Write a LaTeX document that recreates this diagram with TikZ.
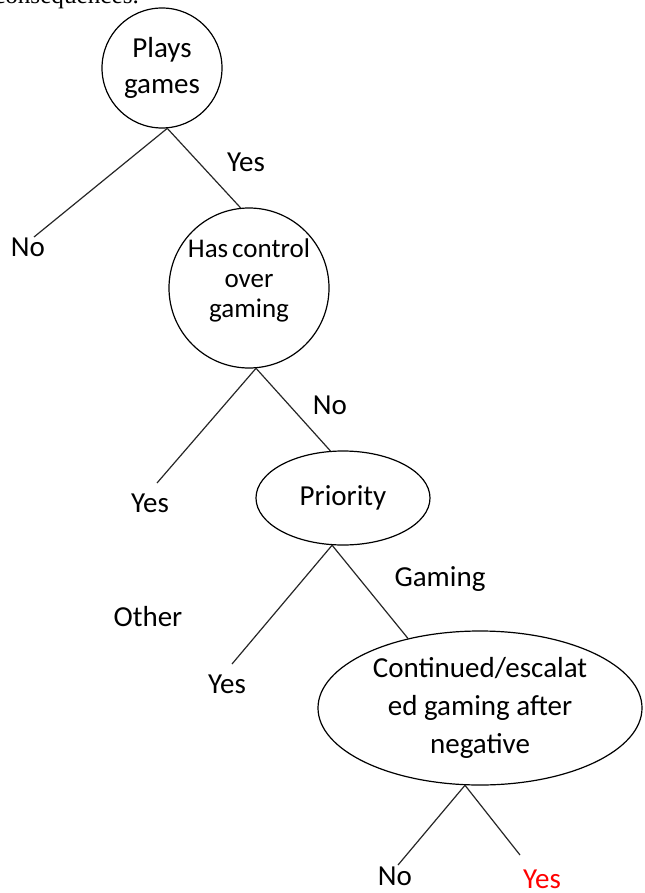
\documentclass[tikz,border=0pt]{standalone}
\usepackage{fontspec}
\setmainfont{Carlito}
\newfontfamily\capfont{Liberation Serif}
\usetikzlibrary{shapes.geometric}

\begin{document}
\begin{tikzpicture}[x=0.5pt,y=-0.5pt,
  every node/.style={font=\fontsize{14.5}{18}\selectfont},
  decision/.style={circle,draw,line width=0.6pt,inner sep=0pt,align=center},
  choice/.style={ellipse,draw,line width=0.6pt,inner sep=0pt,align=center},
  branch/.style={line width=0.6pt,black!85}]
  \useasboundingbox (0,0) rectangle (644,893);
  \node[anchor=base east,font=\capfont\fontsize{12.6}{14}\selectfont] at (146,4) (cap) {consequences.};
  % the tree
  \node[decision,minimum size=60pt] at (162,68) (plays) {Plays\\games};
  \node[decision,minimum size=80pt,
        label={[align=center,font=\fontsize{13.5}{15}\selectfont,yshift=4pt]center:Has\hspace{2pt}control\\over\\gaming}]
        at (249,288) (hc) {};
  \node[choice,minimum width=87pt,minimum height=47pt] at (343,498) (pri) {Priority};
  \node[choice,minimum width=162pt,minimum height=77pt,font=\fontsize{14.5}{19}\selectfont] at (480,708) (ce)
        {Continued/escalat\\ed gaming after\\negative};
  \coordinate (no1) at (34,237);
  \coordinate (yes2) at (157,483);
  \coordinate (yes3) at (232,664);
  \coordinate (no4) at (398,865);
  \coordinate (yes4) at (520,855);
  \draw[branch] (plays.-85) -- (no1);
  \draw[branch] (plays.-85) -- (hc.96);
  \draw[branch] (hc.-85) -- (yes2);
  \draw[branch] (hc.-85) -- (pri.105);
  \draw[branch] (pri.-103) -- (yes3);
  \draw[branch] (pri.-103) -- (ce.136);
  \draw[branch] (ce.-101) -- (no4);
  \draw[branch] (ce.-101) -- (yes4);
  % labels
  \node at (28,247) (l_no1) {No};
  \node at (246,162) (l_yes1) {Yes};
  \node at (330,405) (l_no2) {No};
  \node at (150,503) (l_yes2) {Yes};
  \node at (440,579) (l_gam) {Gaming};
  \node at (148,617) (l_oth) {Other};
  \node at (227,684) (l_yes3) {Yes};
  \node at (395,876) (l_no4) {No};
  \node[red] at (542,879) (l_yes4) {Yes};
\end{tikzpicture}
\end{document}
